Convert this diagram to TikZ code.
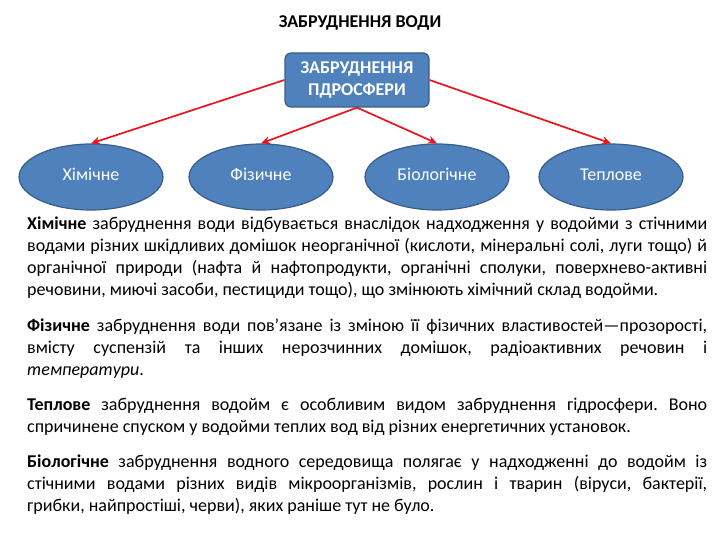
\documentclass[tikz,border=0pt]{standalone}
\usepackage{fontspec}
\setmainfont{Carlito}
\usetikzlibrary{arrows.meta,positioning,shapes.geometric}
\definecolor{boxblue}{RGB}{79,129,189}
\definecolor{boxedge}{RGB}{56,93,138}
\definecolor{linkred}{RGB}{235,20,30}
\frenchspacing
\tikzset{
  kind/.style={
    ellipse,
    fill=boxblue,
    draw=boxedge,
    line width=1.2pt,
    minimum width=144pt,
    minimum height=66pt,
    inner sep=0pt,
    text height=12pt,
    text depth=4pt,
    text=white,
    font=\fontsize{18}{22}\selectfont},
  topbox/.style={
    rectangle,
    rounded corners=6pt,
    fill=boxblue,
    draw=boxedge,
    line width=1.2pt,
    minimum width=144pt,
    minimum height=54pt,
    text=white,
    align=center,
    font=\bfseries\fontsize{18}{22}\selectfont},
  link/.style={
    draw=linkred,
    line width=1.7pt,
    -{Stealth[length=9pt,width=8pt]}},
  para/.style={
    anchor=north west,
    inner sep=0pt,
    text width=680pt,
    align=justify,
    font=\fontsize{18}{22}\selectfont}
  }

\begin{document}
\begin{tikzpicture}[x=1pt,y=-1pt]
    \useasboundingbox (0,0) rectangle (720,540);
    \hyphenpenalty=10000
    \node[font=\bfseries\fontsize{18}{22}\selectfont] (title) at (360,23) {ЗАБРУДНЕННЯ ВОДИ};
    \node[topbox] (hydro) at (357,80) {ЗАБРУДНЕННЯ\\ПДРОСФЕРИ};
    \node[kind] (chem) at (91,177) {Хімічне};
    \node[kind] (phys) at (261,177) {Фізичне};
    \node[kind] (bio) at (437,177) {Біологічне};
    \node[kind] (heat) at (611,177) {Теплове};
    \draw[link] (hydro.west) -- (chem.north);
    \draw[link] (hydro.south) -- (phys.north);
    \draw[link] (hydro.south) -- (bio.north);
    \draw[link] (hydro.east) -- (heat.north);
    % paragraphs
    \node[para] (pchem) at (27,214) {\strut\textbf{Хімічне} забруднення води відбувається внаслідок надходження у водойми з стічними\linebreak
      водами різних шкідливих домішок неорганічної (кислоти, мінеральні солі, луги тощо) й\linebreak
      органічної природи (нафта й нафтопродукти, органічні сполуки, поверхнево-активні\linebreak
      речовини, миючі засоби, пестициди тощо), що змінюють хімічний склад водойми.\strut};
    \node[para, below=13pt of pchem.south west, anchor=north west] (pphys) {\strut\textbf{Фізичне} забруднення води пов’язане із зміною її фізичних властивостей—прозорості,\linebreak
      вмісту суспензій та інших нерозчинних домішок, радіоактивних речовин і\linebreak
      \textit{температури}.\strut};
    \node[para, below=13pt of pphys.south west, anchor=north west] (pheat) {\strut\textbf{Теплове} забруднення водойм є особливим видом забруднення гідросфери. Воно\linebreak
      спричинене спуском у водойми теплих вод від різних енергетичних установок.\strut};
    \node[para, below=13pt of pheat.south west, anchor=north west] (pbio) {\strut\textbf{Біологічне} забруднення водного середовища полягає у надходженні до водойм із\linebreak
      стічними водами різних видів мікроорганізмів, рослин і тварин (віруси, бактерії,\linebreak
      грибки, найпростіші, черви), яких раніше тут не було.\strut};
\end{tikzpicture}
\end{document}
